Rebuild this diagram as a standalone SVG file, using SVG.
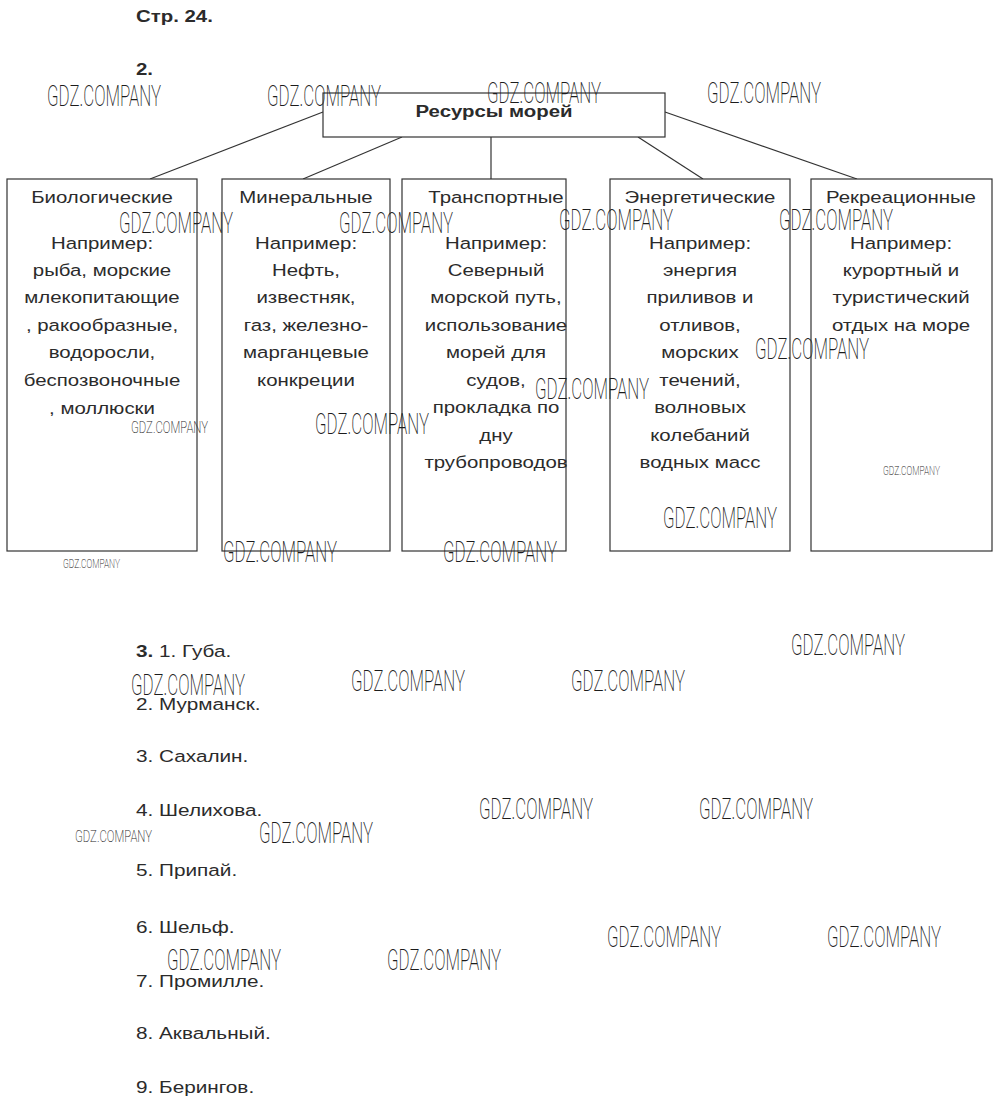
<svg xmlns="http://www.w3.org/2000/svg" width="1000" height="1108" viewBox="0 0 1000 1108">
<style>
.t{font-family:"Liberation Sans",Arial,sans-serif;font-size:17px;fill:#2b2b2b}
.b{font-weight:bold}
.c{text-anchor:middle}
.box{fill:#fff;stroke:#333;stroke-width:1.2}
.ln{stroke:#333;stroke-width:1.2;fill:none}
.wm{font-family:Roboto,"DejaVu Sans",sans-serif;font-weight:200;fill:#1c1c1c}
.wl{font-size:29px}
.ws{font-size:16px}
.wx{font-size:13px}
</style>
<rect width="1000" height="1108" fill="#fff"/>
<g id="header">
<text class="t b" transform="translate(136 22) scale(1.2 1)">Стр. 24.</text>
<text class="t b" transform="translate(136 75) scale(1.2 1)">2.</text>
</g>
<g id="connectors">
<line class="ln" x1="323" y1="112" x2="150" y2="179"/>
<line class="ln" x1="402" y1="137" x2="303" y2="179"/>
<line class="ln" x1="491" y1="137" x2="491" y2="179"/>
<line class="ln" x1="638" y1="137" x2="703" y2="179"/>
<line class="ln" x1="665" y1="112" x2="857" y2="179"/>
</g>
<g id="root">
<rect class="box" x="323" y="93" width="342" height="44"/>
<g transform="translate(494 0) scale(1.2 1)"><text class="t b c" x="0" y="117">Ресурсы морей</text></g>
</g>
<g id="bio">
<rect class="box" x="7" y="179" width="190" height="372"/>
<g transform="translate(102 0) scale(1.2 1)">
<text class="t c" x="0" y="203">Биологические</text>
<text class="t c" x="0" y="249">Например:</text>
<text class="t c" x="0" y="276">рыба, морские</text>
<text class="t c" x="0" y="303">млекопитающие</text>
<text class="t c" x="0" y="331">, ракообразные,</text>
<text class="t c" x="0" y="358">водоросли,</text>
<text class="t c" x="0" y="386">беспозвоночные</text>
<text class="t c" x="0" y="414">, моллюски</text>
</g>
</g>
<g id="mineral">
<rect class="box" x="222" y="179" width="168" height="372"/>
<g transform="translate(306 0) scale(1.2 1)">
<text class="t c" x="0" y="203">Минеральные</text>
<text class="t c" x="0" y="249">Например:</text>
<text class="t c" x="0" y="276">Нефть,</text>
<text class="t c" x="0" y="303">известняк,</text>
<text class="t c" x="0" y="331">газ, железно-</text>
<text class="t c" x="0" y="358">марганцевые</text>
<text class="t c" x="0" y="386">конкреции</text>
</g>
</g>
<g id="transport">
<rect class="box" x="402" y="179" width="164" height="372"/>
<g transform="translate(496 0) scale(1.2 1)">
<text class="t c" x="0" y="203">Транспортные</text>
<text class="t c" x="0" y="249">Например:</text>
<text class="t c" x="0" y="276">Северный</text>
<text class="t c" x="0" y="303">морской путь,</text>
<text class="t c" x="0" y="331">использование</text>
<text class="t c" x="0" y="358">морей для</text>
<text class="t c" x="0" y="386">судов,</text>
<text class="t c" x="0" y="413">прокладка по</text>
<text class="t c" x="0" y="441">дну</text>
<text class="t c" x="0" y="468">трубопроводов</text>
</g>
</g>
<g id="energy">
<rect class="box" x="610" y="179" width="180" height="372"/>
<g transform="translate(700 0) scale(1.2 1)">
<text class="t c" x="0" y="203">Энергетические</text>
<text class="t c" x="0" y="249">Например:</text>
<text class="t c" x="0" y="276">энергия</text>
<text class="t c" x="0" y="303">приливов и</text>
<text class="t c" x="0" y="331">отливов,</text>
<text class="t c" x="0" y="358">морских</text>
<text class="t c" x="0" y="386">течений,</text>
<text class="t c" x="0" y="413">волновых</text>
<text class="t c" x="0" y="441">колебаний</text>
<text class="t c" x="0" y="468">водных масс</text>
</g>
</g>
<g id="recreation">
<rect class="box" x="811" y="179" width="181" height="372"/>
<g transform="translate(901 0) scale(1.2 1)">
<text class="t c" x="0" y="203">Рекреационные</text>
<text class="t c" x="0" y="249">Например:</text>
<text class="t c" x="0" y="276">курортный и</text>
<text class="t c" x="0" y="303">туристический</text>
<text class="t c" x="0" y="331">отдых на море</text>
</g>
</g>
<g id="answers">
<text class="t" transform="translate(136 657) scale(1.22 1)"><tspan class="b">3.</tspan> 1. Губа.</text>
<text class="t" transform="translate(136 710) scale(1.22 1)">2. Мурманск.</text>
<text class="t" transform="translate(136 762) scale(1.22 1)">3. Сахалин.</text>
<text class="t" transform="translate(136 816) scale(1.22 1)">4. Шелихова.</text>
<text class="t" transform="translate(136 876) scale(1.22 1)">5. Припай.</text>
<text class="t" transform="translate(136 933) scale(1.22 1)">6. Шельф.</text>
<text class="t" transform="translate(136 987) scale(1.22 1)">7. Промилле.</text>
<text class="t" transform="translate(136 1039) scale(1.22 1)">8. Аквальный.</text>
<text class="t" transform="translate(136 1093) scale(1.22 1)">9. Берингов.</text>
</g>
<g id="watermarks">
<text class="wm wl" x="47" y="106" textLength="114" lengthAdjust="spacingAndGlyphs">GDZ.COMPANY</text>
<text class="wm wl" x="267" y="106" textLength="114" lengthAdjust="spacingAndGlyphs">GDZ.COMPANY</text>
<text class="wm wl" x="487" y="103" textLength="114" lengthAdjust="spacingAndGlyphs">GDZ.COMPANY</text>
<text class="wm wl" x="707" y="103" textLength="114" lengthAdjust="spacingAndGlyphs">GDZ.COMPANY</text>
<text class="wm wl" x="119" y="233" textLength="114" lengthAdjust="spacingAndGlyphs">GDZ.COMPANY</text>
<text class="wm wl" x="339" y="233" textLength="114" lengthAdjust="spacingAndGlyphs">GDZ.COMPANY</text>
<text class="wm wl" x="559" y="230" textLength="114" lengthAdjust="spacingAndGlyphs">GDZ.COMPANY</text>
<text class="wm wl" x="779" y="230" textLength="114" lengthAdjust="spacingAndGlyphs">GDZ.COMPANY</text>
<text class="wm ws" x="131" y="433" textLength="77" lengthAdjust="spacingAndGlyphs">GDZ.COMPANY</text>
<text class="wm wl" x="315" y="434" textLength="114" lengthAdjust="spacingAndGlyphs">GDZ.COMPANY</text>
<text class="wm wl" x="535" y="399" textLength="114" lengthAdjust="spacingAndGlyphs">GDZ.COMPANY</text>
<text class="wm wl" x="755" y="359" textLength="114" lengthAdjust="spacingAndGlyphs">GDZ.COMPANY</text>
<text class="wm wl" x="663" y="528" textLength="114" lengthAdjust="spacingAndGlyphs">GDZ.COMPANY</text>
<text class="wm wx" x="883" y="475" textLength="57" lengthAdjust="spacingAndGlyphs">GDZ.COMPANY</text>
<text class="wm wl" x="223" y="562" textLength="114" lengthAdjust="spacingAndGlyphs">GDZ.COMPANY</text>
<text class="wm wl" x="443" y="562" textLength="114" lengthAdjust="spacingAndGlyphs">GDZ.COMPANY</text>
<text class="wm wx" x="63" y="568" textLength="57" lengthAdjust="spacingAndGlyphs">GDZ.COMPANY</text>
<text class="wm wl" x="791" y="655" textLength="114" lengthAdjust="spacingAndGlyphs">GDZ.COMPANY</text>
<text class="wm wl" x="131" y="695" textLength="114" lengthAdjust="spacingAndGlyphs">GDZ.COMPANY</text>
<text class="wm wl" x="351" y="691" textLength="114" lengthAdjust="spacingAndGlyphs">GDZ.COMPANY</text>
<text class="wm wl" x="571" y="691" textLength="114" lengthAdjust="spacingAndGlyphs">GDZ.COMPANY</text>
<text class="wm wl" x="479" y="819" textLength="114" lengthAdjust="spacingAndGlyphs">GDZ.COMPANY</text>
<text class="wm wl" x="699" y="819" textLength="114" lengthAdjust="spacingAndGlyphs">GDZ.COMPANY</text>
<text class="wm ws" x="75" y="842" textLength="77" lengthAdjust="spacingAndGlyphs">GDZ.COMPANY</text>
<text class="wm wl" x="259" y="843" textLength="114" lengthAdjust="spacingAndGlyphs">GDZ.COMPANY</text>
<text class="wm wl" x="607" y="947" textLength="114" lengthAdjust="spacingAndGlyphs">GDZ.COMPANY</text>
<text class="wm wl" x="827" y="947" textLength="114" lengthAdjust="spacingAndGlyphs">GDZ.COMPANY</text>
<text class="wm wl" x="167" y="970" textLength="114" lengthAdjust="spacingAndGlyphs">GDZ.COMPANY</text>
<text class="wm wl" x="387" y="970" textLength="114" lengthAdjust="spacingAndGlyphs">GDZ.COMPANY</text>
</g>
</svg>
